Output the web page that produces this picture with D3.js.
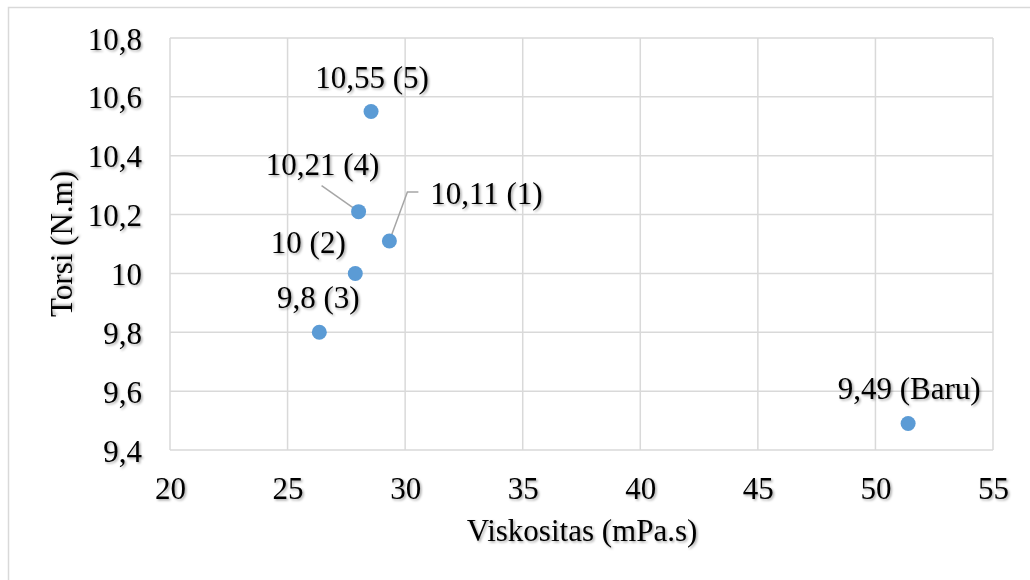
<!DOCTYPE html>
<html>
<head>
<meta charset="utf-8">
<script src="https://cdn.jsdelivr.net/npm/d3@7/dist/d3.min.js"></script>
<style>
html,body{margin:0;padding:0;background:#fff;}
svg{display:block;}
text{font-family:"Liberation Serif","Times New Roman",serif;fill:#000;}
</style>
</head>
<body>
<svg id="chart" width="1030" height="580"></svg>
<script>
const viskositas = [29.33, 27.88, 26.35, 28.02, 28.55, 51.39];
const torsi = [10.11, 10.0, 9.8, 10.21, 10.55, 9.49];
const pointLabels = ["10,11 (1)", "10 (2)", "9,8 (3)", "10,21 (4)", "10,55 (5)", "9,49 (Baru)"];
const xTicks = [20, 25, 30, 35, 40, 45, 50, 55];
const yTicks = [9.4, 9.6, 9.8, 10.0, 10.2, 10.4, 10.6, 10.8];
const yTickLabels = ["9,4", "9,6", "9,8", "10", "10,2", "10,4", "10,6", "10,8"];

// label offsets (dx, dy of label baseline center relative to point) - layout only
const labelOffsets = [[97, -37], [-47, -20], [-1, -24], [-36, -37], [1, -24], [1, -25]];

(function(){
const svg = d3.select("#chart");
const defs = svg.append("defs");
const f = defs.append("filter").attr("id","shadow").attr("x","-10%").attr("y","-20%").attr("width","130%").attr("height","150%");
f.append("feDropShadow").attr("dx",1.5).attr("dy",1.5).attr("stdDeviation",1.2).attr("flood-color","#000").attr("flood-opacity",0.35);

// outer border
svg.append("rect").attr("x",8.5).attr("y",7.5).attr("width",1040).attr("height",600)
  .attr("fill","none").attr("stroke","#d9d9d9").attr("stroke-width",1.5);

const pLeft = 170, pRight = 993, pTop = 38, pBottom = 450;
const x = d3.scaleLinear().domain([20,55]).range([pLeft,pRight]);
const y = d3.scaleLinear().domain([9.4,10.8]).range([pBottom,pTop]);

const g = svg.append("g");
g.append("g").selectAll("line").data(xTicks).join("line")
  .attr("x1",d=>x(d)).attr("x2",d=>x(d)).attr("y1",pTop).attr("y2",pBottom)
  .attr("stroke","#d9d9d9").attr("stroke-width",1.5);
g.append("g").selectAll("line").data(yTicks).join("line")
  .attr("x1",pLeft).attr("x2",pRight).attr("y1",d=>y(d)).attr("y2",d=>y(d))
  .attr("stroke","#d9d9d9").attr("stroke-width",1.5);

const xAxis = d3.axisBottom(x).tickValues(xTicks).tickSize(0).tickPadding(0).tickFormat(d=>String(d));
const xg = svg.append("g").attr("transform",`translate(0,${pBottom})`).call(xAxis);
xg.select(".domain").remove();
xg.selectAll("text").attr("dy",null).attr("y",49).attr("font-size",31)
  .attr("font-family","Liberation Serif, Times New Roman, serif").attr("fill","#000").attr("filter","url(#shadow)");

const yAxis = d3.axisLeft(y).tickValues(yTicks).tickSize(0).tickPadding(0)
  .tickFormat((d,i)=>yTickLabels[i]);
const yg = svg.append("g").attr("transform",`translate(${pLeft},0)`).call(yAxis);
yg.select(".domain").remove();
yg.selectAll("text").attr("dy",null).attr("x",-28).attr("y",11).attr("font-size",31)
  .attr("font-family","Liberation Serif, Times New Roman, serif").attr("fill","#000").attr("filter","url(#shadow)");

svg.append("text").attr("x",582).attr("y",541).attr("text-anchor","middle").attr("font-size",31)
  .attr("filter","url(#shadow)").text("Viskositas (mPa.s)");
svg.append("text").attr("transform","translate(72,244) rotate(-90)").attr("text-anchor","middle")
  .attr("font-size",31).attr("filter","url(#shadow)").text("Torsi (N.m)");

const data = viskositas.map((v,i)=>({x:v,y:torsi[i],label:pointLabels[i],off:labelOffsets[i]}));

const d4 = data[3];
svg.append("line").attr("x1",x(d4.x)-37).attr("y1",y(d4.y)-26).attr("x2",x(d4.x)).attr("y2",y(d4.y))
  .attr("stroke","#a6a6a6").attr("stroke-width",1.5);
const d1 = data[0];
svg.append("polyline").attr("points",`${x(d1.x)},${y(d1.y)} ${x(d1.x)+18},${y(d1.y)-49} ${x(d1.x)+29},${y(d1.y)-49}`)
  .attr("fill","none").attr("stroke","#a6a6a6").attr("stroke-width",1.5);

svg.append("g").selectAll("circle").data(data).join("circle")
  .attr("cx",d=>x(d.x)).attr("cy",d=>y(d.y)).attr("r",7.5).attr("fill","#5b9bd5");

svg.append("g").selectAll("text").data(data).join("text")
  .attr("x",d=>x(d.x)+d.off[0]).attr("y",d=>y(d.y)+d.off[1])
  .attr("text-anchor","middle").attr("font-size",31).attr("filter","url(#shadow)")
  .text(d=>d.label);
})();
</script>
</body>
</html>
